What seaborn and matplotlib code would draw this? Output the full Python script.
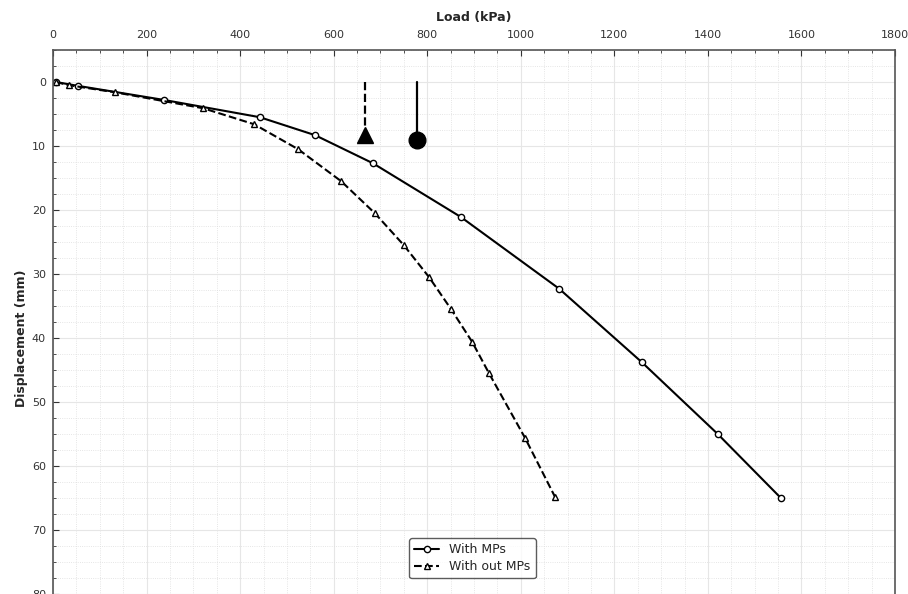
import matplotlib
matplotlib.use("Agg")
import matplotlib.pyplot as plt
from matplotlib.ticker import MultipleLocator
import seaborn as sns
import pandas as pd

sns.set_theme(style="whitegrid")
plt.rcParams['font.family'] = ['DejaVu Sans']

load_with = [6, 53, 237, 442, 560, 684, 872, 1082, 1259, 1421, 1556]
disp_with = [0, 0.6, 2.8, 5.5, 8.3, 12.7, 21.1, 32.3, 43.8, 55.0, 65.0]

load_without = [6, 34, 132, 321, 430, 524, 616, 688, 750, 804, 851, 896, 932, 1009, 1073]
disp_without = [0, 0.5, 1.6, 4.1, 6.6, 10.5, 15.5, 20.5, 25.5, 30.5, 35.5, 40.6, 45.5, 55.6, 64.8]

ult_without = 667
ult_with = 778
ult_disp_without = 8.3
ult_disp_with = 9.1

labels = ["With MPs", "With out MPs"]

df_with = pd.DataFrame({"load": load_with, "disp": disp_with})
df_without = pd.DataFrame({"load": load_without, "disp": disp_without})

fig = plt.figure(figsize=(9.08, 5.94), dpi=100)
ax = fig.add_axes([53/908, (594-626)/594, 842/908, 576/594])

sns.lineplot(data=df_with, x="load", y="disp", ax=ax, color="black", lw=1.5,
             marker="o", markersize=4.5, markerfacecolor="white", markeredgecolor="black",
             markeredgewidth=1.0, label=labels[0], sort=False)
sns.lineplot(data=df_without, x="load", y="disp", ax=ax, color="black", lw=1.5,
             linestyle="--", marker="^", markersize=4.5, markerfacecolor="white",
             markeredgecolor="black", markeredgewidth=1.0, label=labels[1], sort=False)

ax.plot([ult_without, ult_without], [0, ult_disp_without], color="black", lw=1.6, ls="--")
ax.plot([ult_without], [ult_disp_without], marker="^", color="black", markersize=12, ls="none")
ax.plot([ult_with, ult_with], [0, ult_disp_with], color="black", lw=1.6)
ax.plot([ult_with], [ult_disp_with], marker="o", color="black", markersize=12, ls="none")

ax.set_xlim(0, 1800)
ax.set_ylim(85, -5)
ax.xaxis.set_major_locator(MultipleLocator(200))
ax.xaxis.set_minor_locator(MultipleLocator(50))
ax.yaxis.set_major_locator(MultipleLocator(10))
ax.yaxis.set_minor_locator(MultipleLocator(2.5))
ax.xaxis.tick_top()
ax.xaxis.set_label_position("top")
ax.tick_params(which="both", direction="in", top=True, bottom=False, left=True, right=False,
               labelsize=8, colors="#333333")
ax.tick_params(axis="x", which="major", pad=7)
ax.tick_params(axis="y", which="major", pad=5)
ax.tick_params(which="major", length=4, width=0.8)
ax.tick_params(which="minor", length=2, width=0.6)
ax.grid(which="major", color="#e6e6e6", lw=0.8, ls="-")
ax.grid(which="minor", color="#dddddd", lw=0.6, ls=":")
ax.set_axisbelow(True)
for s in ax.spines.values():
    s.set_color("#555555")
    s.set_linewidth(1.2)

ax.set_xlabel("Load (kPa)", fontsize=9, fontweight="bold", labelpad=7)
ax.set_ylabel("Displacement (mm)", fontsize=9, fontweight="bold", labelpad=3)

leg = ax.legend(loc="upper center", bbox_to_anchor=((408+537)/2/908*908/842 - 53/842, (626-532)/576),
                fontsize=9, frameon=True, handlelength=2.0, borderpad=0.4,
                labelspacing=0.3, fancybox=True)
leg.get_frame().set_edgecolor("#333333")
leg.get_frame().set_linewidth(1.0)

fig.savefig("out.png", dpi=100)
